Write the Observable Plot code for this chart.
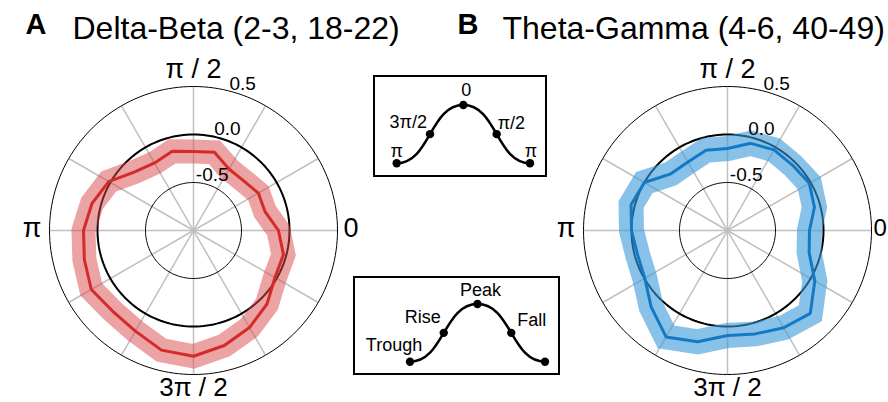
<!DOCTYPE html>
<html>
<head>
<meta charset="utf-8">
<script src="https://cdn.jsdelivr.net/npm/d3@7"></script>
<script src="https://cdn.jsdelivr.net/npm/@observablehq/plot@0.6"></script>
<style>
  html, body { margin: 0; padding: 0; background: #fff; overflow: hidden; }
  #page { position: relative; width: 888px; height: 402px; overflow: hidden;
          font-family: "Liberation Sans", Arial, sans-serif; }
  .panel { position: absolute; top: 0; }
  .box { position: absolute; border: 2.5px solid #000; box-sizing: border-box; background: #fff; }
  .box svg { display: block; }
</style>
</head>
<body>
<div id="page"></div>
<script>
// ---------------- data ----------------
const phaseAngles = [0, 15, 30, 45, 60, 75, 90, 105, 120, 135, 150, 165,
                     180, 195, 210, 225, 240, 255, 270, 285, 300, 315, 330, 345];
const deltaBeta = [-0.115, -0.23, -0.22, -0.265, -0.26, -0.156, -0.177, -0.146, -0.188, -0.135, 0.02, 0.094,
                   0.146, 0.177, 0.229, 0.19, 0.21, 0.29, 0.31, 0.24, 0.167, 0.083, -0.02, -0.03];
const thetaGamma = [-0.146, -0.0625, -0.016, -0.04, -0.03, -0.06, -0.146, -0.135, -0.177, -0.165, 0.0, 0.04,
                    0.0, -0.03, -0.005, 0.125, 0.28, 0.2, 0.094, 0.115, 0.17, 0.22, 0.05, -0.12];
const radialTicks = [-0.5, 0.0, 0.5];
const radialTickLabels = ["-0.5", "0.0", "0.5"];
const spokeAngles = [0, 30, 60, 90, 120, 150, 180, 210, 240, 270, 300, 330];
const angleLabelAngles = [0, 90, 180, 270];
const angleLabels = ["0", "π / 2", "π", "3π / 2"];
const panelLetters = ["A", "B"];
const panelTitles = ["Delta-Beta (2-3, 18-22)", "Theta-Gamma (4-6, 40-49)"];
const insetX = [0, 1, 2, 3, 4];
const insetY = [-1, 0, 1, 0, -1];
const insetPhaseLabels = ["π", "3π/2", "0", "π/2", "π"];
const insetNameLabels = ["Trough", "Rise", "Peak", "Fall", ""];

// ---------------- helpers ----------------
const FONT = '"Liberation Sans", Arial, sans-serif';
const k = 1.5 / 144;                 // data units per pixel (outer ring radius 1.5 units = 144 px)
const rad = a => a * Math.PI / 180;
const ring = v => v + 1;             // value domain [-1, 0.5] -> radius [0, 1.5]
const X = (r, a) => r * Math.cos(rad(a));
const Y = (r, a) => r * Math.sin(rad(a));

const page = document.getElementById("page");

function polarPanel(values, o) {
  const W = 444, H = 402, cx = o.cx, cy = 230;
  const pts = phaseAngles.map((a, i) => ({a, v: values[i]}));
  const circlePts = radialTicks.flatMap(t => d3.range(0, 361, 2).map(a => ({t, a})));
  const lblStyle = [
    {r: o.zeroR, anchor: "start", dy: -2, fs: o.zeroFs},
    {r: 161, anchor: "middle", dy: 0, fs: 27},
    {r: 152, anchor: "end", dy: -2, fs: 27},
    {r: 157, anchor: "middle", dy: 0, fs: 26}
  ];
  const plot = Plot.plot({
    width: W, height: H, margin: 0,
    x: {domain: [-cx * k, (W - cx) * k], axis: null},
    y: {domain: [-(H - cy) * k, cy * k], axis: null},
    style: {fontFamily: FONT, background: "transparent", color: "#000", overflow: "visible"},
    marks: [
      Plot.link(spokeAngles, {x1: () => 0, y1: () => 0, x2: a => X(1.5, a), y2: a => Y(1.5, a),
        stroke: "#c0c0c0", strokeWidth: 1.5}),
      Plot.line(circlePts, {filter: d => d.t !== 0, x: d => X(ring(d.t), d.a), y: d => Y(ring(d.t), d.a),
        z: "t", stroke: "#000", strokeWidth: 1}),
      Plot.line(circlePts, {filter: d => d.t === 0, x: d => X(ring(d.t), d.a), y: d => Y(ring(d.t), d.a),
        z: "t", stroke: "#000", strokeWidth: 2}),
      Plot.line(pts, {x: d => X(ring(d.v), d.a), y: d => Y(ring(d.v), d.a), curve: "linear-closed",
        stroke: o.band, strokeOpacity: o.bandOpacity, strokeWidth: o.bandWidth,
        strokeLinejoin: "miter", strokeMiterlimit: 4}),
      Plot.line(pts, {x: d => X(ring(d.v), d.a), y: d => Y(ring(d.v), d.a), curve: "linear-closed",
        stroke: o.line, strokeWidth: 3, strokeLinejoin: "miter"}),
      Plot.text(radialTicks, {x: t => X(ring(t) + 11 * k, 71.5), y: t => Y(ring(t) + 11 * k, 71.5),
        text: (t, i) => radialTickLabels[i], fontSize: 19, fill: "#000"}),
      ...angleLabelAngles.map((a, i) => Plot.text([a], {
        x: d => X(lblStyle[i].r * k, d), y: d => Y(lblStyle[i].r * k, d),
        text: () => angleLabels[i], textAnchor: lblStyle[i].anchor, dy: lblStyle[i].dy,
        fontSize: lblStyle[i].fs, fill: "#000"})),
      Plot.text([o.letter], {frameAnchor: "top-left", dx: o.letterX, dy: 33, lineAnchor: "bottom",
        textAnchor: "start", fontSize: 29, fontWeight: "bold", fill: "#000"}),
      Plot.text([o.title], {frameAnchor: "top-left", dx: o.titleX, dy: 38, lineAnchor: "bottom",
        textAnchor: "start", fontSize: 32, fill: "#000"})
    ]
  });
  const wrap = document.createElement("div");
  wrap.className = "panel";
  wrap.style.left = o.left + "px";
  wrap.appendChild(plot);
  page.appendChild(wrap);
}

polarPanel(deltaBeta, {left: 0, cx: 193, line: "#d42a2a", band: "#d94848", bandOpacity: 0.5, bandWidth: 24,
  letter: panelLetters[0], title: panelTitles[0], letterX: 25, titleX: 72, zeroR: 150, zeroFs: 27});
polarPanel(thetaGamma, {left: 444, cx: 283, line: "#1479c4", band: "#3a9ad9", bandOpacity: 0.6, bandWidth: 25,
  letter: panelLetters[1], title: panelTitles[1], letterX: 13, titleX: 58, zeroR: 146, zeroFs: 24});

function inset(labels, o) {
  const box = document.createElement("div");
  box.className = "box";
  Object.assign(box.style, {left: o.left + "px", top: o.top + "px", width: o.width + "px", height: o.height + "px"});
  const pts = insetX.map((x, i) => ({x, y: insetY[i], i}));
  const plot = Plot.plot({
    width: o.width - 5, height: o.height - 5,
    marginLeft: o.ml, marginRight: o.mr, marginTop: o.mt, marginBottom: o.mb,
    x: {domain: [0, 4], axis: null}, y: {domain: [-1, 1], axis: null},
    style: {fontFamily: FONT, background: "transparent", color: "#000", overflow: "visible"},
    marks: [
      Plot.line(pts, {filter: d => d.i % 2 === 0, x: "x", y: "y", curve: "bump-x", stroke: "#000", strokeWidth: 2.5}),
      Plot.dot(pts, {x: "x", y: "y", r: 4.2, fill: "#000", stroke: null}),
      ...labels.map((lab, i) => lab ? Plot.text([pts[i]], {x: "x", y: "y", text: () => lab,
        dx: o.off[i][0], dy: o.off[i][1], textAnchor: o.off[i][2], fontSize: o.fontSize, fill: "#000"}) : null)
    ]
  });
  box.appendChild(plot);
  page.appendChild(box);
}

inset(insetPhaseLabels, {left: 373, top: 75, width: 174, height: 102, ml: 21.2, mr: 14.5, mt: 27.5, mb: 11.2,
  fontSize: 18, off: [[0, -12, "middle"], [-3, -12, "end"], [3, -15, "middle"], [1, -11, "start"], [1, -12, "middle"]]});
inset(insetNameLabels, {left: 353, top: 276, width: 207, height: 99, ml: 54.5, mr: 12.5, mt: 25.5, mb: 10.8,
  fontSize: 18, off: [[-16, -16, "middle"], [-3, -16, "end"], [3, -13.5, "middle"], [6, -12.5, "start"], [0, 0, "middle"]]});
</script>
</body>
</html>
